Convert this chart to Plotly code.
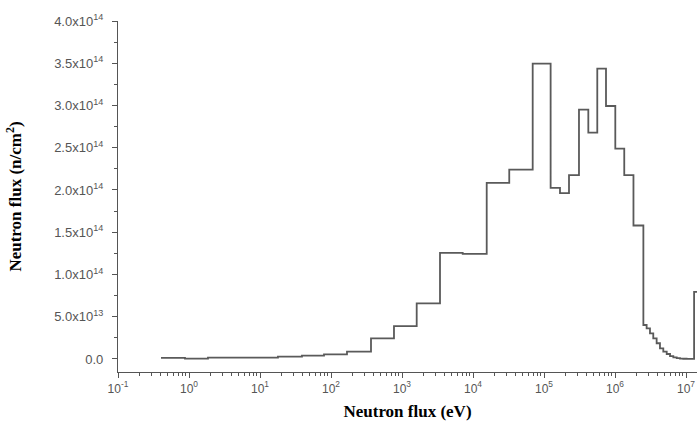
import plotly.graph_objects as go

# Group boundaries (eV) and flux per group (n/cm^2)
energy_edges = [0.403, 0.878, 1.85, 17.9, 39.0, 79.7, 168, 366, 771, 1611, 3430, 7160,
                15600, 32400, 69300, 1.24e5, 1.68e5, 2.25e5, 3.11e5, 4.21e5, 5.63e5,
                7.47e5, 1.01e6, 1.35e6, 1.82e6, 2.51e6, 2.79e6, 3.11e6, 3.46e6, 3.86e6,
                4.30e6, 4.79e6, 5.35e6, 5.96e6, 6.63e6, 7.40e6, 8.23e6, 9.16e6, 1.02e7,
                1.14e7, 1.30e7, 1.5e7]
flux = [1.2e12, 0.4e12, 1.5e12, 2.7e12, 3.9e12, 5.5e12, 8.6e12, 2.45e13, 3.9e13,
        6.58e13, 1.256e14, 1.245e14, 2.084e14, 2.242e14, 3.495e14, 2.025e14, 1.962e14,
        2.175e14, 2.95e14, 2.68e14, 3.436e14, 2.994e14, 2.49e14, 2.175e14, 1.58e14,
        4.02e13, 3.63e13, 3.04e13, 2.45e13, 1.86e13, 1.26e13, 8.6e12, 5.9e12, 3.5e12,
        2.0e12, 1.0e12, 0.5e12, 0.3e12, 0.2e12, 0.1e12, 7.95e13]

x_ticks = [0.1, 1, 10, 100, 1e3, 1e4, 1e5, 1e6, 1e7]
x_ticktext = ["10<sup>-1</sup>", "10<sup>0</sup>", "10<sup>1</sup>", "10<sup>2</sup>",
              "10<sup>3</sup>", "10<sup>4</sup>", "10<sup>5</sup>", "10<sup>6</sup>",
              "10<sup>7</sup>"]
y_ticks = [0, 5e13, 1e14, 1.5e14, 2e14, 2.5e14, 3e14, 3.5e14, 4e14]
y_ticktext = ["0.0", "5.0x10<sup>13</sup>", "1.0x10<sup>14</sup>", "1.5x10<sup>14</sup>",
              "2.0x10<sup>14</sup>", "2.5x10<sup>14</sup>", "3.0x10<sup>14</sup>",
              "3.5x10<sup>14</sup>", "4.0x10<sup>14</sup>"]

x_minor = [m * d for d in x_ticks for m in range(2, 10)]
y_minor = [v + 2.5e13 for v in y_ticks[:-1]]

fig = go.Figure()
fig.add_trace(go.Scatter(
    x=energy_edges,
    y=flux + [flux[-1]],
    mode="lines",
    line=dict(shape="hv", color="#5a5a5a", width=1.8),
    hoverinfo="skip",
))

tickfont = dict(family="Arial, Liberation Sans, sans-serif", size=12, color="#555555")
ytickfont = dict(family="Arial, Liberation Sans, sans-serif", size=13, color="#555555")
titlefont = dict(family="Liberation Serif, Times New Roman, serif", size=17, color="#000000")

fig.update_layout(
    width=699, height=433,
    margin=dict(l=118, r=2, t=21, b=61),
    paper_bgcolor="white", plot_bgcolor="white",
    showlegend=False,
    xaxis=dict(
        type="log", range=[-1.0, 7.155], automargin=False,
        tickmode="array", tickvals=x_ticks, ticktext=x_ticktext,
        ticks="outside", ticklen=5, tickwidth=1, tickcolor="#555555",
        showline=True, linecolor="#555555", linewidth=1.2,
        showgrid=False, zeroline=False,
        tickfont=tickfont,
        minor=dict(tickmode="array", tickvals=x_minor, ticks="outside", ticklen=3,
                   tickcolor="#555555", showgrid=False),
        title=dict(text="<b>Neutron flux (eV)</b>", font=titlefont, standoff=10),
    ),
    yaxis=dict(
        range=[-1.54e13, 4.0e14], automargin=False,
        tickmode="array", tickvals=y_ticks, ticktext=y_ticktext,
        ticks="outside", ticklen=5, tickwidth=1, tickcolor="#555555",
        showline=True, linecolor="#555555", linewidth=1.2,
        showgrid=False, zeroline=False,
        tickfont=ytickfont, ticklabelstandoff=6,
        minor=dict(tickmode="array", tickvals=y_minor, ticks="outside", ticklen=3,
                   tickcolor="#555555", showgrid=False),
        title=dict(text="<b>Neutron flux (n/cm<sup>2</sup>)</b>", font=titlefont, standoff=28),
    ),
)

fig.write_html("out.html", config={"displayModeBar": False},
               post_script="document.body.style.margin='0';")
